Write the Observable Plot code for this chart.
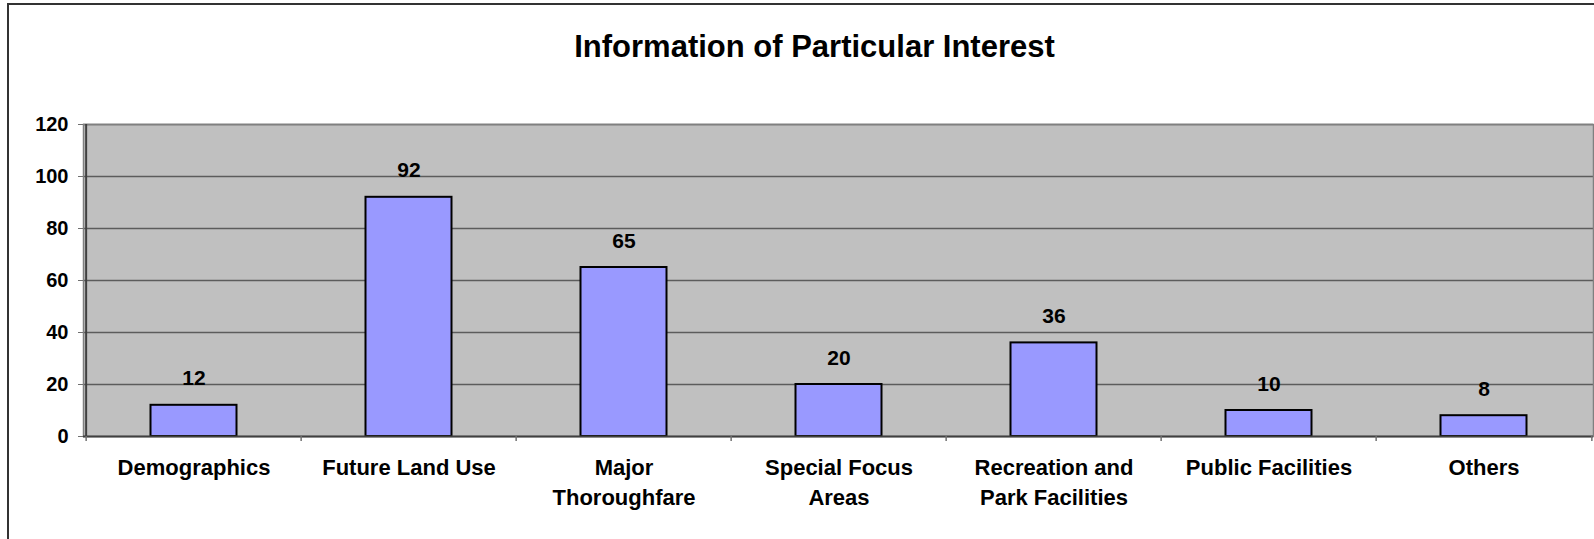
<!DOCTYPE html>
<html><head><meta charset="utf-8">
<script src="https://cdn.jsdelivr.net/npm/d3@7"></script>
<script src="https://cdn.jsdelivr.net/npm/@observablehq/plot@0.6"></script>
<style>
html,body{margin:0;padding:0;background:#fff;overflow:hidden;}
#wrap{position:relative;width:1594px;height:539px;overflow:hidden;}
#wrap svg{position:absolute;left:0;top:0;}
#border{position:absolute;left:7px;top:3px;width:1700px;height:700px;border-left:2px solid #333;border-top:2px solid #333;}
</style></head><body><div id="wrap"><div id="border"></div></div>
<script>
const title = "Information of Particular Interest";
const categories = ["Demographics","Future Land Use","Major\nThoroughfare","Special Focus\nAreas","Recreation and\nPark Facilities","Public Facilities","Others"];
const values = [12, 92, 65, 20, 36, 10, 8];
const yTicks = [0, 20, 40, 60, 80, 100, 120];

const data = categories.map((c, i) => ({category: c, value: values[i]}));
const W = 1594, H = 539, mL = 83, mR = 1, mT = 124, mB = 103;
const step = (W - mL - mR) / categories.length;
const plotH = H - mT - mB;
const font = "'Liberation Sans', Arial, sans-serif";

const chart = Plot.plot({
  width: W, height: H,
  marginLeft: mL, marginRight: mR, marginTop: mT, marginBottom: mB,
  style: {fontFamily: font, fontWeight: "bold", background: "transparent", color: "#000", overflow: "visible"},
  x: {domain: categories, padding: 0, axis: null},
  y: {domain: [0, 120], axis: null},
  marks: [
    Plot.frame({fill: "#C0C0C0", stroke: null}),
    Plot.ruleY(yTicks.filter(d => d > 0), {stroke: "#5c5c5c", strokeWidth: 1.5}),
    Plot.frame({stroke: "#808080", strokeWidth: 1.5}),
    Plot.barY(data, {x: "category", y: "value", fill: "#9999FF", stroke: "#000", strokeWidth: 2, insetLeft: 64.5, insetRight: 64.5}),
    Plot.ruleY([0], {stroke: "#404040", strokeWidth: 2}),
    Plot.ruleX([categories[0]], {dx: -step / 2, stroke: "#404040", strokeWidth: 2}),
    Plot.ruleX(categories, {x: d => d, dx: -step / 2, insetTop: plotH, insetBottom: -5, stroke: "#707070", strokeWidth: 1.5}),
    Plot.ruleX([categories[categories.length - 1]], {dx: step / 2, insetTop: plotH, insetBottom: -5, stroke: "#707070", strokeWidth: 1.5}),
    Plot.axisY({ticks: yTicks, label: null, tickSize: 5, tickPadding: 10, fontSize: 20, fontWeight: "bold", stroke: "#707070", fill: "#000"}),
    Plot.text(data, {x: "category", y: "value", text: d => String(d.value), dy: -20, lineAnchor: "bottom", fontSize: 21, fontWeight: "bold", fill: "#000"}),
    Plot.text(data, {x: "category", frameAnchor: "bottom", text: "category", lineAnchor: "top", dy: 17, fontSize: 22, lineHeight: 1.37, fontWeight: "bold", fill: "#000"}),
    Plot.text([title], {frameAnchor: "top", text: d => d, dx: -24, dy: -68, lineAnchor: "bottom", fontSize: 31, fontWeight: "bold", fill: "#000"})
  ]
});
document.getElementById("wrap").insertBefore(chart, document.getElementById("border"));
</script>
</body></html>
